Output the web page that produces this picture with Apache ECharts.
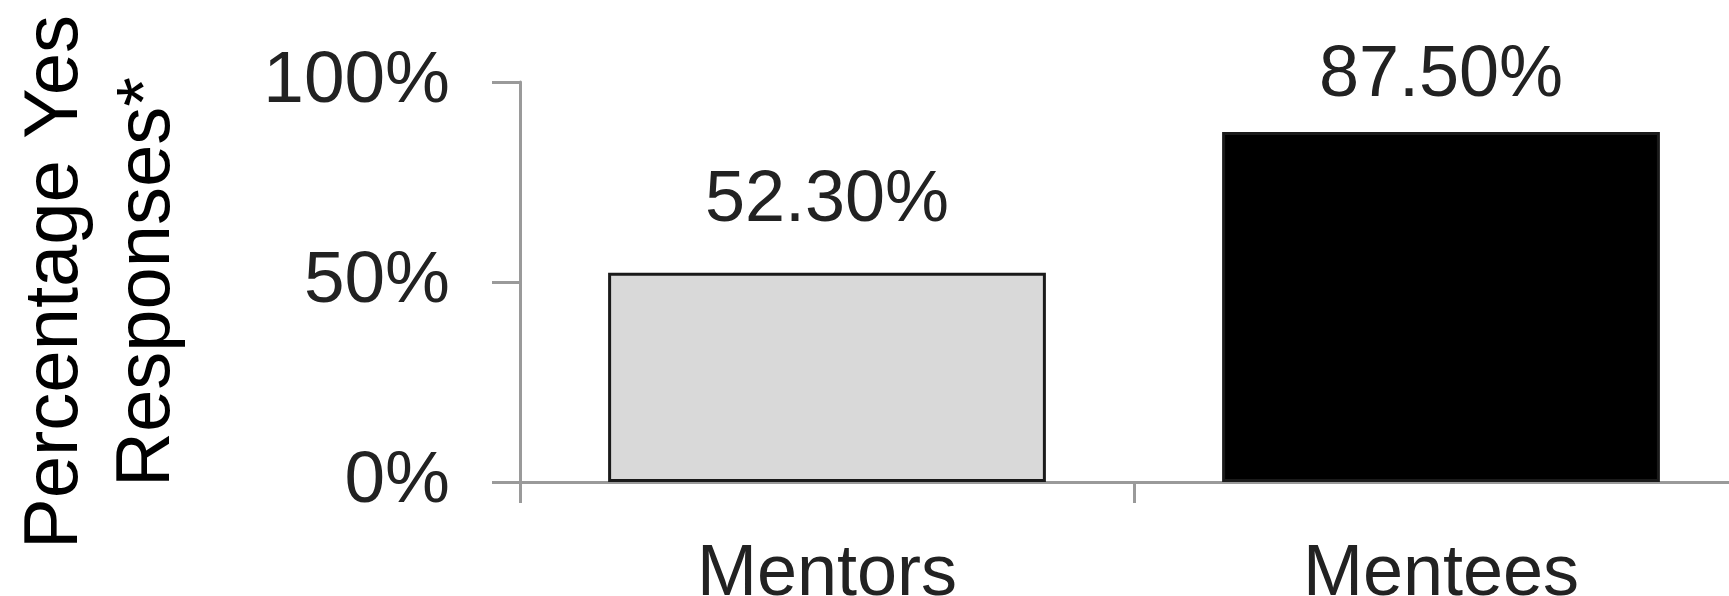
<!DOCTYPE html>
<html>
<head>
<meta charset="utf-8">
<script src="https://cdn.jsdelivr.net/npm/echarts@6/dist/echarts.min.js"></script>
<style>
	html, body { margin: 0; padding: 0; background: #fff; }
	#chart { width: 1729px; height: 596px; }
</style>
</head>
<body>
<div id="chart"></div>
<script>
	// data
	var categories = [ 'Mentors', 'Mentees' ];
	var values = [ 52.3, 87.5 ];
	var valueLabels = [ '52.30%', '87.50%' ];
	var yTicks = [ 0, 50, 100 ];

	var fills = [ '#d9d9d9', '#000000' ];
	var labelGaps = [ 36, 20 ];
	var font = '"Liberation Sans", Arial, Helvetica, sans-serif';

	var chart = echarts.init(document.getElementById('chart'));

	var datas = [];
	for (var i = 0; i < values.length; i++) {
		datas.push({
			value : values[i],
			itemStyle : {
				color : fills[i],
				borderColor : '#1a1a1a',
				borderWidth : 3
			},
			label : {
				distance : labelGaps[i]
			}
		});
	}

	chart.setOption({
		animation : false,
		grid : {
			left : 520,
			top : 82,
			bottom : 114,
			right : -19,
			outerBoundsMode : 'none'
		},
		xAxis : {
			type : 'category',
			data : categories,
			axisLine : { lineStyle : { color : '#9a9a9a', width : 3 } },
			axisTick : { show : true, length : 21, lineStyle : { color : '#9a9a9a', width : 3 } },
			axisLabel : {
				color : '#222',
				fontFamily : font,
				fontSize : 72,
				margin : 57
			}
		},
		yAxis : {
			type : 'value',
			min : yTicks[0],
			max : yTicks[yTicks.length - 1],
			interval : yTicks[1] - yTicks[0],
			name : 'Percentage Yes\nResponses*',
			nameLocation : 'middle',
			nameRotate : 90,
			nameGap : 326,
			nameTextStyle : {
				color : '#000',
				fontFamily : font,
				fontSize : 76,
				lineHeight : 92
			},
			splitLine : { show : false },
			axisLine : { show : true, lineStyle : { color : '#9a9a9a', width : 3 } },
			axisTick : { show : true, length : 28, lineStyle : { color : '#9a9a9a', width : 3 } },
			axisLabel : {
				color : '#222',
				fontFamily : font,
				fontSize : 73,
				margin : 70,
				formatter : '{value}%'
			}
		},
		series : [ {
			type : 'bar',
			barWidth : '71.3%',
			data : datas,
			label : {
				show : true,
				position : 'top',
				color : '#222',
				fontFamily : font,
				fontSize : 72,
				formatter : function(p) {
					return valueLabels[p.dataIndex];
				}
			}
		} ]
	});
</script>
</body>
</html>
